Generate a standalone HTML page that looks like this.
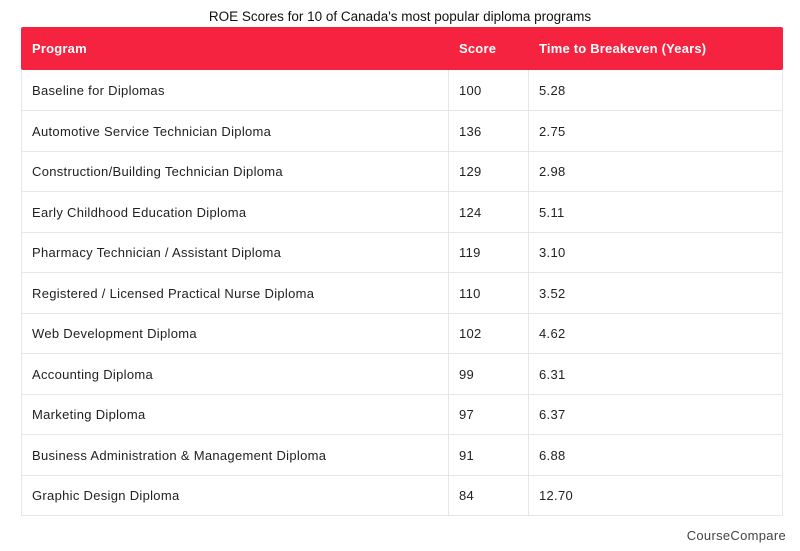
<!DOCTYPE html>
<html><head><meta charset="utf-8"><style>
body{margin:0;width:800px;height:551px;background:#fff;font-family:"Liberation Sans",sans-serif;position:relative;overflow:hidden;color:#222}
.t{position:absolute;top:9px;left:0;width:800px;text-align:center;font-size:13.5px;color:#111}
.hdr{position:absolute;left:21px;top:27px;width:762px;height:43px;background:#f5233f;border-radius:2px}
.hdr span{position:absolute;top:14px;color:#fff;font-weight:bold;font-size:13px;letter-spacing:0.2px}
.row{position:absolute;left:21px;width:760px;height:40px;border-left:1px solid #e6e6e6;border-right:1px solid #e6e6e6;border-bottom:1px solid #e6e6e6}
.row span{position:absolute;top:13px;font-size:13px;color:#222;letter-spacing:0.3px}
.v{position:absolute;top:70px;height:445px;width:1px;background:#e6e6e6}
.cc{position:absolute;right:14px;top:528px;font-size:13px;color:#444;letter-spacing:0.3px}
</style></head><body>
<div class="t">ROE Scores for 10 of Canada's most popular diploma programs</div>
<div class="hdr"><span style="left:11px">Program</span><span style="left:438px">Score</span><span style="left:518px">Time to Breakeven (Years)</span></div>
<div class="row" style="top:70px"><span style="left:10px">Baseline for Diplomas</span><span style="left:437px">100</span><span style="left:517px">5.28</span></div>
<div class="row" style="top:111px"><span style="left:10px">Automotive Service Technician Diploma</span><span style="left:437px">136</span><span style="left:517px">2.75</span></div>
<div class="row" style="top:151px"><span style="left:10px">Construction/Building Technician Diploma</span><span style="left:437px">129</span><span style="left:517px">2.98</span></div>
<div class="row" style="top:192px"><span style="left:10px">Early Childhood Education Diploma</span><span style="left:437px">124</span><span style="left:517px">5.11</span></div>
<div class="row" style="top:232px"><span style="left:10px">Pharmacy Technician / Assistant Diploma</span><span style="left:437px">119</span><span style="left:517px">3.10</span></div>
<div class="row" style="top:273px"><span style="left:10px">Registered / Licensed Practical Nurse Diploma</span><span style="left:437px">110</span><span style="left:517px">3.52</span></div>
<div class="row" style="top:313px"><span style="left:10px">Web Development Diploma</span><span style="left:437px">102</span><span style="left:517px">4.62</span></div>
<div class="row" style="top:354px"><span style="left:10px">Accounting Diploma</span><span style="left:437px">99</span><span style="left:517px">6.31</span></div>
<div class="row" style="top:394px"><span style="left:10px">Marketing Diploma</span><span style="left:437px">97</span><span style="left:517px">6.37</span></div>
<div class="row" style="top:435px"><span style="left:10px">Business Administration &amp; Management Diploma</span><span style="left:437px">91</span><span style="left:517px">6.88</span></div>
<div class="row" style="top:475px"><span style="left:10px">Graphic Design Diploma</span><span style="left:437px">84</span><span style="left:517px">12.70</span></div>
<div class="v" style="left:448px"></div>
<div class="v" style="left:528px"></div>
<div class="cc">CourseCompare</div>
</body></html>
